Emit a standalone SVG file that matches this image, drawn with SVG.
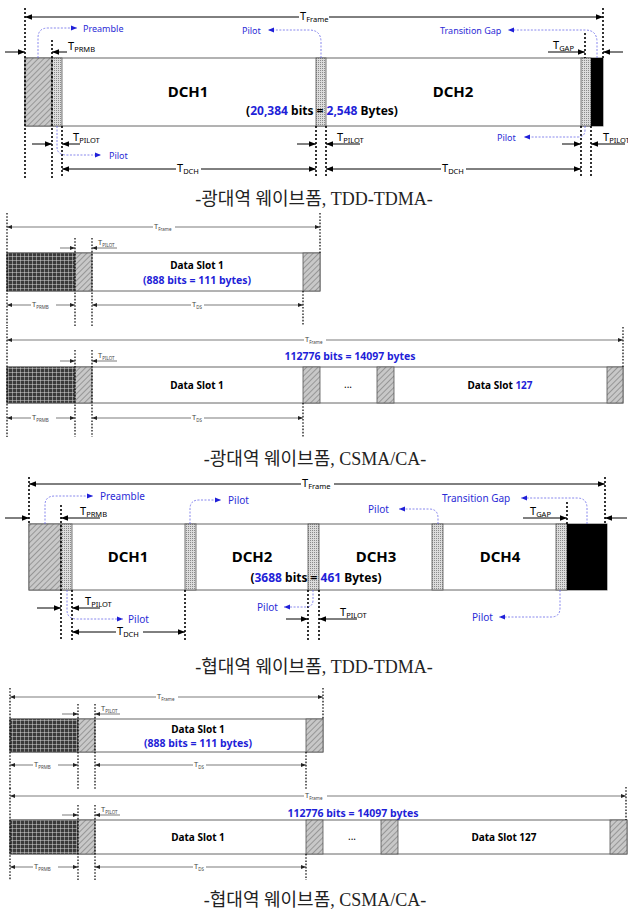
<svg xmlns="http://www.w3.org/2000/svg" width="628" height="915" viewBox="0 0 628 915">
<style>
.dl{stroke:#000;stroke-width:1.6;stroke-dasharray:2 2;fill:none}
.dls{stroke:#000;stroke-width:1.2;stroke-dasharray:1.6 1.6;fill:none}
.ar{stroke:#000;stroke-width:1;fill:none}
.ars{stroke:#444;stroke-width:0.7;fill:none}
.me{marker-end:url(#ah)}
.ms{marker-start:url(#ah)}
.mse{marker-end:url(#ahs)}
.mss{marker-start:url(#ahs)}
.bc{stroke:#6a6ae8;stroke-width:0.8;stroke-dasharray:2 1.5;fill:none;marker-end:url(#bh)}
.box{fill:#fff;stroke:#666;stroke-width:1}
.pat{stroke:#555;stroke-width:0.8}
.t{font-family:'Noto Sans','Liberation Sans',sans-serif;font-size:11px;fill:#000}
.ts{font-family:'Noto Sans','Liberation Sans',sans-serif;font-size:7.5px;fill:#444}
.sub{font-size:7.5px}
.subs{font-size:4.5px}
.bl{font-family:'Noto Sans','Liberation Sans',sans-serif;font-size:10px;fill:#2b2bd6}
.bl9{font-family:'Noto Sans','Liberation Sans',sans-serif;font-size:9px;fill:#2b2bd6}
.dch{font-family:'Noto Sans','Liberation Sans',sans-serif;font-size:15px;font-weight:bold;text-anchor:middle}
.bits{font-family:'Noto Sans','Liberation Sans',sans-serif;font-size:12px;font-weight:bold;text-anchor:middle}
.ds{font-family:'Noto Sans','Liberation Sans',sans-serif;font-size:10px;font-weight:bold;text-anchor:middle}
.dsb{font-family:'Noto Sans','Liberation Sans',sans-serif;font-size:10.5px;font-weight:bold;text-anchor:middle;fill:#1f1fd8}
.blue{fill:#1f1fd8}
.cap{font-family:'Liberation Serif','Noto Sans CJK KR',serif;font-size:18px;text-anchor:middle;fill:#222}
</style>
<defs>
<marker id="ah" viewBox="0 0 10 10" refX="10" refY="5" markerWidth="7" markerHeight="7" markerUnits="userSpaceOnUse" orient="auto-start-reverse"><path d="M0,1 L10,5 L0,9z" fill="#000"/></marker>
<marker id="ahs" viewBox="0 0 10 10" refX="10" refY="5" markerWidth="5" markerHeight="5" markerUnits="userSpaceOnUse" orient="auto-start-reverse"><path d="M0,1 L10,5 L0,9z" fill="#222"/></marker>
<marker id="bh" viewBox="0 0 10 10" refX="10" refY="5" markerWidth="7" markerHeight="6" markerUnits="userSpaceOnUse" orient="auto"><path d="M0,1 L10,5 L0,9z" fill="#1f1fd8"/></marker>
<pattern id="hatch" width="4" height="4" patternUnits="userSpaceOnUse" patternTransform="rotate(45)"><rect width="4" height="4" fill="#c8c8c8"/><line x1="0" y1="0" x2="0" y2="4" stroke="#808080" stroke-width="1.4"/></pattern>
<pattern id="dots" width="2" height="2" patternUnits="userSpaceOnUse"><rect width="2" height="2" fill="#dcdcdc"/><rect width="1" height="1" fill="#8a8a8a"/></pattern>
<pattern id="grid" width="4" height="4" patternUnits="userSpaceOnUse"><rect width="4" height="4" fill="#3a3a3a"/><path d="M0,0.3H4M0.3,0V4" stroke="#e0e0e0" stroke-width="0.6"/></pattern>
</defs>
<rect width="628" height="915" fill="#fff"/>

<!-- ========== Section 1: wideband TDD-TDMA ========== -->
<g id="s1-frame"><rect class="box" x="25" y="58" width="578" height="68"/></g>
<g id="s1-preamble"><rect class="pat" x="25" y="58" width="27" height="68" fill="url(#hatch)"/></g>
<g id="s1-pilot1"><rect class="pat" x="52" y="58" width="10" height="68" fill="url(#dots)"/></g>
<g id="s1-dch1"><text class="dch" x="188" y="97">DCH1</text></g>
<g id="s1-pilot2"><rect class="pat" x="316" y="58" width="10" height="68" fill="url(#dots)"/></g>
<g id="s1-dch2"><text class="dch" x="453" y="97">DCH2</text></g>
<g id="s1-pilot3"><rect class="pat" x="581" y="58" width="10" height="68" fill="url(#dots)"/></g>
<g id="s1-gap"><rect x="591" y="58" width="12" height="68" fill="#000"/></g>
<g id="s1-bits"><text class="bits" x="322" y="115">(<tspan class="blue">20,384</tspan> bits = <tspan class="blue">2,548</tspan> Bytes)</text></g>
<g id="s1-labels">
<text class="t" x="300" y="20">T<tspan class="sub" dy="2">Frame</tspan></text>
<text class="t" x="68" y="50">T<tspan class="sub" dy="2">PRMB</tspan></text>
<text class="t" x="553" y="49">T<tspan class="sub" dy="2">GAP</tspan></text>
<text class="t" x="73" y="141">T<tspan class="sub" dy="2">PILOT</tspan></text>
<text class="t" x="337" y="141">T<tspan class="sub" dy="2">PILOT</tspan></text>
<text class="t" x="603" y="141">T<tspan class="sub" dy="2">PILOT</tspan></text>
<text class="t" x="177" y="172">T<tspan class="sub" dy="2">DCH</tspan></text>
<text class="t" x="442" y="172">T<tspan class="sub" dy="2">DCH</tspan></text>
<text class="bl9" x="83" y="32">Preamble</text>
<text class="bl9" x="242" y="34">Pilot</text>
<text class="bl9" x="440" y="34">Transition Gap</text>
<text class="bl9" x="109" y="159">Pilot</text>
<text class="bl9" x="497" y="141">Pilot</text>
</g>
<g id="s1-connectors">
<path class="dl" d="M25,8V178M52,40V178M62,126V178M316,126V178M326,126V178M581,126V178M591,126V178M585,33V58M603,8V58"/>
<line class="ar ms" x1="25" y1="17" x2="299" y2="17"/>
<line class="ar me" x1="329" y1="17" x2="603" y2="17"/>
<line class="ar me" x1="5" y1="52" x2="25" y2="52"/>
<line class="ar me" x1="67" y1="52" x2="52" y2="52"/>
<line class="ar me" x1="548" y1="52" x2="585" y2="52"/>
<line class="ar me" x1="623" y1="52" x2="603" y2="52"/>
<line class="ar me" x1="32" y1="144" x2="52" y2="144"/>
<line class="ar me" x1="80" y1="144" x2="62" y2="144"/>
<line class="ar me" x1="297" y1="144" x2="316" y2="144"/>
<line class="ar me" x1="360" y1="144" x2="326" y2="144"/>
<line class="ar me" x1="562" y1="144" x2="581" y2="144"/>
<line class="ar me" x1="625" y1="144" x2="591" y2="144"/>
<line class="ar ms" x1="62" y1="169" x2="176" y2="169"/>
<line class="ar me" x1="201" y1="169" x2="316" y2="169"/>
<line class="ar ms" x1="326" y1="169" x2="441" y2="169"/>
<line class="ar me" x1="466" y1="169" x2="581" y2="169"/>
<path class="bc" d="M38,58V38Q38,28 48,28H77"/>
<path class="bc" d="M321,58V42Q321,30 309,30H268"/>
<path class="bc" d="M597,58V42Q597,30 585,30H508"/>
<path class="bc" d="M57,126V147Q57,155 67,155H101"/>
<path class="bc" d="M585,126V130Q585,137 578,137H524"/>
</g>
<text class="cap" x="314" y="205">-광대역 웨이브폼, TDD-TDMA-</text>

<!-- ========== Section 2: wideband CSMA/CA single slot ========== -->
<g id="s2-frame"><rect class="box" x="7" y="253" width="313" height="38"/></g>
<g id="s2-preamble"><rect class="pat" x="7" y="253" width="68" height="38" fill="url(#grid)"/></g>
<g id="s2-guard1"><rect class="pat" x="75" y="253" width="17" height="38" fill="url(#hatch)"/></g>
<g id="s2-slot1"><text class="ds" x="197" y="269">Data Slot 1</text><text class="dsb" x="197" y="284">(888 bits = 111 bytes)</text></g>
<g id="s2-guard2"><rect class="pat" x="303" y="253" width="17" height="38" fill="url(#hatch)"/></g>
<g id="s2-labels">
<text class="ts" x="154" y="229">T<tspan class="subs" dy="1.5">Frame</tspan></text>
<text class="ts" x="98" y="245">T<tspan class="subs" dy="1.5">PILOT</tspan></text>
<text class="ts" x="32" y="307">T<tspan class="subs" dy="1.5">PRMB</tspan></text>
<text class="ts" x="192" y="307">T<tspan class="subs" dy="1.5">DS</tspan></text>
</g>
<g id="s2-connectors">
<path class="dls" d="M7,213V326M75,238V326M92,238V326M303,291V326M320,213V253"/>
<line class="ars mss" x1="7" y1="227" x2="153" y2="227"/>
<line class="ars mse" x1="175" y1="227" x2="320" y2="227"/>
<line class="ars mse" x1="60" y1="248" x2="75" y2="248"/>
<line class="ars mse" x1="117" y1="248" x2="92" y2="248"/>
<line class="ars mss" x1="7" y1="305" x2="31" y2="305"/>
<line class="ars mse" x1="56" y1="305" x2="75" y2="305"/>
<line class="ars mss" x1="92" y1="305" x2="191" y2="305"/>
<line class="ars mse" x1="204" y1="305" x2="303" y2="305"/>
</g>

<!-- ========== Section 3: wideband CSMA/CA full frame ========== -->
<g id="s3-frame"><rect class="box" x="7" y="367" width="616" height="36"/></g>
<g id="s3-preamble"><rect class="pat" x="7" y="367" width="68" height="36" fill="url(#grid)"/></g>
<g id="s3-guard1"><rect class="pat" x="75" y="367" width="17" height="36" fill="url(#hatch)"/></g>
<g id="s3-slot1"><text class="ds" x="197" y="389">Data Slot 1</text></g>
<g id="s3-guard2"><rect class="pat" x="303" y="367" width="17" height="36" fill="url(#hatch)"/></g>
<g id="s3-ellipsis"><text class="ds" x="348" y="388" style="font-weight:normal">...</text></g>
<g id="s3-guard3"><rect class="pat" x="377" y="367" width="17" height="36" fill="url(#hatch)"/></g>
<g id="s3-slot127"><text class="ds" x="500" y="389">Data Slot <tspan class="blue">127</tspan></text></g>
<g id="s3-guard4"><rect class="pat" x="607" y="367" width="16" height="36" fill="url(#hatch)"/></g>
<g id="s3-labels">
<text class="ts" x="305" y="342">T<tspan class="subs" dy="1.5">Frame</tspan></text>
<text class="dsb" x="350" y="360">112776 bits = 14097 bytes</text>
<text class="ts" x="98" y="358">T<tspan class="subs" dy="1.5">PILOT</tspan></text>
<text class="ts" x="32" y="420">T<tspan class="subs" dy="1.5">PRMB</tspan></text>
<text class="ts" x="192" y="420">T<tspan class="subs" dy="1.5">DS</tspan></text>
</g>
<g id="s3-connectors">
<path class="dls" d="M7,327V437M75,350V437M92,350V437M303,403V437M623,327V367"/>
<line class="ars mss" x1="7" y1="340" x2="304" y2="340"/>
<line class="ars mse" x1="326" y1="340" x2="623" y2="340"/>
<line class="ars mse" x1="60" y1="361" x2="75" y2="361"/>
<line class="ars mse" x1="117" y1="361" x2="92" y2="361"/>
<line class="ars mss" x1="7" y1="418" x2="31" y2="418"/>
<line class="ars mse" x1="56" y1="418" x2="75" y2="418"/>
<line class="ars mss" x1="92" y1="418" x2="191" y2="418"/>
<line class="ars mse" x1="204" y1="418" x2="303" y2="418"/>
</g>
<text class="cap" x="315" y="465">-광대역 웨이브폼, CSMA/CA-</text>

<!-- ========== Section 4: narrowband TDD-TDMA ========== -->
<g id="s4-frame"><rect class="box" x="29" y="524" width="578" height="66"/></g>
<g id="s4-preamble"><rect class="pat" x="29" y="524" width="32" height="66" fill="url(#hatch)"/></g>
<g id="s4-pilot1"><rect class="pat" x="61" y="524" width="11" height="66" fill="url(#dots)"/></g>
<g id="s4-dch1"><text class="dch" x="128" y="562">DCH1</text></g>
<g id="s4-pilot2"><rect class="pat" x="185" y="524" width="11" height="66" fill="url(#dots)"/></g>
<g id="s4-dch2"><text class="dch" x="252" y="562">DCH2</text></g>
<g id="s4-pilot3"><rect class="pat" x="308" y="524" width="11" height="66" fill="url(#dots)"/></g>
<g id="s4-dch3"><text class="dch" x="376" y="562">DCH3</text></g>
<g id="s4-pilot4"><rect class="pat" x="432" y="524" width="11" height="66" fill="url(#dots)"/></g>
<g id="s4-dch4"><text class="dch" x="500" y="562">DCH4</text></g>
<g id="s4-pilot5"><rect class="pat" x="556" y="524" width="11" height="66" fill="url(#dots)"/></g>
<g id="s4-gap"><rect x="567" y="524" width="40" height="66" fill="#000"/></g>
<g id="s4-bits"><text class="bits" x="316" y="582">(<tspan class="blue">3688</tspan> bits = <tspan class="blue">461</tspan> Bytes)</text></g>
<g id="s4-labels">
<text class="t" x="302" y="487">T<tspan class="sub" dy="2">Frame</tspan></text>
<text class="t" x="80" y="515">T<tspan class="sub" dy="2">PRMB</tspan></text>
<text class="t" x="530" y="515">T<tspan class="sub" dy="2">GAP</tspan></text>
<text class="t" x="85" y="605">T<tspan class="sub" dy="2">PILOT</tspan></text>
<text class="t" x="340" y="616">T<tspan class="sub" dy="2">PILOT</tspan></text>
<text class="t" x="117" y="635">T<tspan class="sub" dy="2">DCH</tspan></text>
<text class="bl" x="100" y="500">Preamble</text>
<text class="bl" x="228" y="504">Pilot</text>
<text class="bl" x="368" y="513">Pilot</text>
<text class="bl" x="442" y="502">Transition Gap</text>
<text class="bl" x="128" y="623">Pilot</text>
<text class="bl" x="257" y="611">Pilot</text>
<text class="bl" x="472" y="621">Pilot</text>
</g>
<g id="s4-connectors">
<path class="dl" d="M29,477V524M61,505V640M72,590V640M185,590V640M308,590V640M319,590V640M567,502V524M605,477V524"/>
<line class="ar ms" x1="29" y1="484" x2="301" y2="484"/>
<line class="ar me" x1="334" y1="484" x2="605" y2="484"/>
<line class="ar me" x1="5" y1="518" x2="29" y2="518"/>
<line class="ar me" x1="100" y1="518" x2="61" y2="518"/>
<line class="ar me" x1="523" y1="518" x2="567" y2="518"/>
<line class="ar me" x1="627" y1="518" x2="605" y2="518"/>
<line class="ar me" x1="37" y1="608" x2="61" y2="608"/>
<line class="ar me" x1="100" y1="608" x2="72" y2="608"/>
<line class="ar me" x1="286" y1="619" x2="308" y2="619"/>
<line class="ar me" x1="357" y1="619" x2="319" y2="619"/>
<line class="ar ms" x1="72" y1="632" x2="116" y2="632"/>
<line class="ar me" x1="143" y1="632" x2="185" y2="632"/>
<path class="bc" d="M45,524V505Q45,496 55,496H93"/>
<path class="bc" d="M190,524V509Q190,500 199,500H221"/>
<path class="bc" d="M438,524V518Q438,509 429,509H399"/>
<path class="bc" d="M587,524V508Q587,498 577,498H521"/>
<path class="bc" d="M67,590V610Q67,619 77,619H123"/>
<path class="bc" d="M313,590V600Q313,607 306,607H284"/>
<path class="bc" d="M560,590V608Q560,617 551,617H499"/>
</g>
<text class="cap" x="314" y="673">-협대역 웨이브폼, TDD-TDMA-</text>

<!-- ========== Section 5: narrowband CSMA/CA single slot ========== -->
<g id="s5-frame"><rect class="box" x="10" y="719" width="313" height="33"/></g>
<g id="s5-preamble"><rect class="pat" x="10" y="719" width="68" height="33" fill="url(#grid)"/></g>
<g id="s5-guard1"><rect class="pat" x="78" y="719" width="17" height="33" fill="url(#hatch)"/></g>
<g id="s5-slot1"><text class="ds" x="198" y="733">Data Slot 1</text><text class="dsb" x="198" y="747">(888 bits = 111 bytes)</text></g>
<g id="s5-guard2"><rect class="pat" x="306" y="719" width="17" height="33" fill="url(#hatch)"/></g>
<g id="s5-labels">
<text class="ts" x="157" y="699">T<tspan class="subs" dy="1.5">Frame</tspan></text>
<text class="ts" x="101" y="711">T<tspan class="subs" dy="1.5">PILOT</tspan></text>
<text class="ts" x="34" y="767">T<tspan class="subs" dy="1.5">PRMB</tspan></text>
<text class="ts" x="194" y="767">T<tspan class="subs" dy="1.5">DS</tspan></text>
</g>
<g id="s5-connectors">
<path class="dls" d="M10,688V790M78,704V790M95,704V790M306,752V790M323,688V719"/>
<line class="ars mss" x1="10" y1="697" x2="156" y2="697"/>
<line class="ars mse" x1="178" y1="697" x2="323" y2="697"/>
<line class="ars mse" x1="62" y1="714" x2="78" y2="714"/>
<line class="ars mse" x1="120" y1="714" x2="95" y2="714"/>
<line class="ars mss" x1="10" y1="765" x2="33" y2="765"/>
<line class="ars mse" x1="58" y1="765" x2="78" y2="765"/>
<line class="ars mss" x1="95" y1="765" x2="193" y2="765"/>
<line class="ars mse" x1="206" y1="765" x2="306" y2="765"/>
</g>

<!-- ========== Section 6: narrowband CSMA/CA full frame ========== -->
<g id="s6-frame"><rect class="box" x="10" y="820" width="617" height="34"/></g>
<g id="s6-preamble"><rect class="pat" x="10" y="820" width="68" height="34" fill="url(#grid)"/></g>
<g id="s6-guard1"><rect class="pat" x="78" y="820" width="17" height="34" fill="url(#hatch)"/></g>
<g id="s6-slot1"><text class="ds" x="198" y="841">Data Slot 1</text></g>
<g id="s6-guard2"><rect class="pat" x="306" y="820" width="17" height="34" fill="url(#hatch)"/></g>
<g id="s6-ellipsis"><text class="ds" x="352" y="840" style="font-weight:normal">...</text></g>
<g id="s6-guard3"><rect class="pat" x="381" y="820" width="17" height="34" fill="url(#hatch)"/></g>
<g id="s6-slot127"><text class="ds" x="504" y="841">Data Slot 127</text></g>
<g id="s6-guard4"><rect class="pat" x="610" y="820" width="17" height="34" fill="url(#hatch)"/></g>
<g id="s6-labels">
<text class="ts" x="305" y="798">T<tspan class="subs" dy="1.5">Frame</tspan></text>
<text class="dsb" x="353" y="817">112776 bits = 14097 bytes</text>
<text class="ts" x="101" y="812">T<tspan class="subs" dy="1.5">PILOT</tspan></text>
<text class="ts" x="34" y="869">T<tspan class="subs" dy="1.5">PRMB</tspan></text>
<text class="ts" x="194" y="869">T<tspan class="subs" dy="1.5">DS</tspan></text>
</g>
<g id="s6-connectors">
<path class="dls" d="M10,788V880M78,805V880M95,805V880M306,854V880M626,787V820"/>
<line class="ars mss" x1="10" y1="796" x2="304" y2="796"/>
<line class="ars mse" x1="327" y1="796" x2="626" y2="796"/>
<line class="ars mse" x1="62" y1="815" x2="78" y2="815"/>
<line class="ars mse" x1="120" y1="815" x2="95" y2="815"/>
<line class="ars mss" x1="10" y1="867" x2="33" y2="867"/>
<line class="ars mse" x1="58" y1="867" x2="78" y2="867"/>
<line class="ars mss" x1="95" y1="867" x2="193" y2="867"/>
<line class="ars mse" x1="206" y1="867" x2="306" y2="867"/>
</g>
<text class="cap" x="315" y="906">-협대역 웨이브폼, CSMA/CA-</text>
</svg>
